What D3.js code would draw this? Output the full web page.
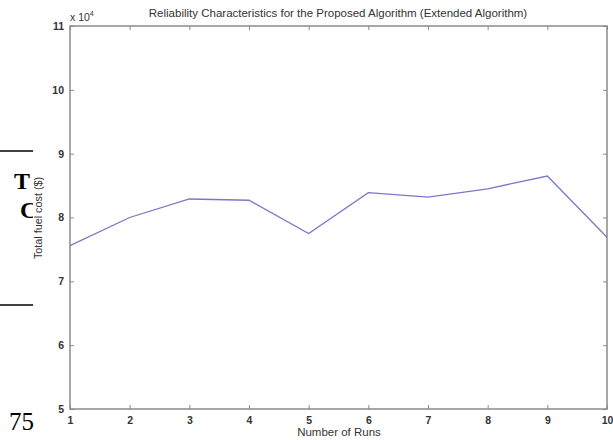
<!DOCTYPE html>
<meta charset="utf-8">
<style>
body { margin: 0; background: white; }
.axis path, .axis line { stroke: #8a8a8a; }
.axis text { fill: #333; font-family: 'Liberation Sans', Arial, sans-serif; font-size: 10.5px; font-weight: bold; }
.lbl { fill: #333; font-family: 'Liberation Sans', Arial, sans-serif; font-size: 11.5px; }
.serif { font-family: 'Liberation Serif', 'Times New Roman', serif; fill: #000; }
</style>
<body>
<script src="https://cdn.jsdelivr.net/npm/d3@7"></script>
<script>
// data
var runs = [1, 2, 3, 4, 5, 6, 7, 8, 9, 10];
var cost = [75600, 80000, 82900, 82700, 77500, 83900, 83200, 84500, 86500, 76900];
var yTicks = [5, 6, 7, 8, 9, 10, 11];
var title = "Reliability Characteristics for the Proposed Algorithm (Extended Algorithm)";

var W = 613, H = 440;
var margin = { top: 26, right: 6, bottom: 31, left: 70 },
  width = W - margin.left - margin.right,
  height = H - margin.top - margin.bottom;

var svg = d3.select("body").append("svg")
  .attr("width", W).attr("height", H);

// bits of the surrounding page that got cropped in (chart image covers x > 33)
svg.append("clipPath").attr("id", "pageclip")
  .append("rect").attr("x", 0).attr("y", 0).attr("width", 33).attr("height", H);
var page = svg.append("g").attr("clip-path", "url(#pageclip)");
page.append("line").attr("x1", 0).attr("x2", 33).attr("y1", 151).attr("y2", 151)
  .attr("stroke", "#000").attr("stroke-width", 1.5);
page.append("line").attr("x1", 0).attr("x2", 33).attr("y1", 305).attr("y2", 305)
  .attr("stroke", "#000").attr("stroke-width", 1.5);
page.append("text").attr("class", "serif").attr("x", 14).attr("y", 189)
  .style("font-size", "24px").style("font-weight", "bold").text("T");
page.append("text").attr("class", "serif").attr("x", 20).attr("y", 218)
  .style("font-size", "24px").style("font-weight", "bold").text("C");
svg.append("text").attr("class", "serif").attr("x", 9).attr("y", 430)
  .style("font-size", "25px").text("75");

var g = svg.append("g")
  .attr("transform", "translate(" + margin.left + "," + margin.top + ")");

var x = d3.scaleLinear().domain([1, 10]).range([0, width]);
var y = d3.scaleLinear().domain([5e4, 11e4]).range([height, 0]);

// box
g.append("rect").attr("x", -2).attr("width", width + 2).attr("height", height)
  .attr("fill", "white");
g.append("rect").attr("width", width).attr("height", height)
  .attr("fill", "none").attr("stroke", "#8a8a8a").attr("stroke-width", 1.5);

g.append("g").attr("class", "axis")
  .attr("transform", "translate(0," + height + ")")
  .call(d3.axisBottom(x).tickValues(runs).tickSize(-4).tickPadding(8).tickFormat(d3.format("d")))
  .call(a => a.select(".domain").remove());
g.append("g").attr("class", "axis")
  .call(d3.axisTop(x).tickValues(runs).tickSize(-4).tickFormat(""))
  .call(a => a.select(".domain").remove());
g.append("g").attr("class", "axis")
  .call(d3.axisLeft(y).tickValues(yTicks.map(d => d * 1e4)).tickSize(-4).tickPadding(6)
    .tickFormat(d => d / 1e4))
  .call(a => a.select(".domain").remove());
g.append("g").attr("class", "axis")
  .attr("transform", "translate(" + width + ",0)")
  .call(d3.axisRight(y).tickValues(yTicks.map(d => d * 1e4)).tickSize(-4).tickFormat(""))
  .call(a => a.select(".domain").remove());

var line = d3.line().x((d, i) => x(runs[i])).y(d => y(d));
g.append("path").datum(cost)
  .attr("fill", "none").attr("stroke", "#7878c8").attr("stroke-width", 1.3)
  .attr("d", line);

// exponent label
var ex = svg.append("text").attr("class", "lbl").attr("x", 70).attr("y", 21)
  .style("font-size", "10.5px");
ex.append("tspan").text("x 10");
ex.append("tspan").attr("dy", -5).style("font-size", "7px").text("4");

svg.append("text").attr("class", "lbl").attr("text-anchor", "middle")
  .attr("x", 338).attr("y", 17).text(title);

svg.append("text").attr("class", "lbl").attr("text-anchor", "middle")
  .attr("x", 339).attr("y", 436).text("Number of Runs");

svg.append("text").attr("class", "lbl").attr("text-anchor", "middle")
  .style("font-size", "10.8px")
  .attr("transform", "translate(42,218) rotate(-90)").text("Total fuel cost ($)");
</script>
</body>
